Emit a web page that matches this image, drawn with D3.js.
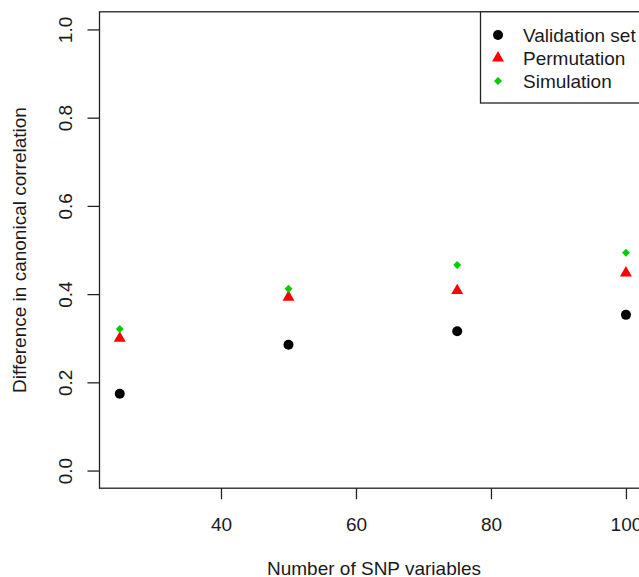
<!DOCTYPE html>
<html><head><meta charset="utf-8">
<script src="https://cdn.jsdelivr.net/npm/d3@7"></script>
<style>body{margin:0;background:#fff}svg{display:block}text{font-family:"Liberation Sans",Arial,sans-serif;fill:#1a1a1a}</style>
</head><body><svg id="c" width="639" height="577"></svg>
<script>
const snpCounts = [25, 50, 75, 100];
const validation = [0.174, 0.285, 0.316, 0.353];
const permutation = [0.300, 0.393, 0.408, 0.448];
const simulation = [0.321, 0.412, 0.466, 0.494];
const xTicks = [40, 60, 80, 100];
const yTicks = [0.0, 0.2, 0.4, 0.6, 0.8, 1.0];
const legendLabels = ["Validation set", "Permutation", "Simulation"];

const svg = d3.select("#c");
const x = d3.scaleLinear().domain([22, 103]).range([99.5, 646.2]);
const y = d3.scaleLinear().domain([-0.04, 1.04]).range([488.2, 11.8]);
const fs = 19;

// box
svg.append("rect").attr("x", x(22)).attr("y", y(1.04)).attr("width", x(103) - x(22)).attr("height", y(-0.04) - y(1.04))
  .attr("fill", "none").attr("stroke", "#222").attr("stroke-width", 1.3);

// x axis
const xa = svg.append("g").attr("transform", `translate(0,${y(-0.04)})`)
  .call(d3.axisBottom(x).tickValues(xTicks).tickSize(11).tickPadding(0).tickFormat(d3.format("d")));
xa.select(".domain").remove();
xa.selectAll("line").attr("stroke", "#222").attr("stroke-width", 1.3);
xa.selectAll("text").attr("font-size", fs).attr("dy", null).attr("y", 43).style("fill", "#1a1a1a");

// y axis
const ya = svg.append("g").attr("transform", `translate(${x(22)},0)`)
  .call(d3.axisLeft(y).tickValues(yTicks).tickSize(12).tickFormat(d3.format(".1f")));
ya.select(".domain").remove();
ya.selectAll("line").attr("stroke", "#222").attr("stroke-width", 1.3);
ya.selectAll("text").attr("x", null).attr("dy", null).attr("font-size", fs)
  .attr("text-anchor", "middle").attr("transform", "translate(-28,0) rotate(-90)").style("fill", "#1a1a1a");

// axis titles
svg.append("text").attr("x", 374).attr("y", 575).attr("text-anchor", "middle").attr("font-size", fs).text("Number of SNP variables");
svg.append("text").attr("transform", `translate(26,${(y(1.04) + y(-0.04)) / 2}) rotate(-90)`).attr("text-anchor", "middle").attr("font-size", fs).text("Difference in canonical correlation");

const circle = d3.symbol().type(d3.symbolCircle).size(Math.PI * 5 * 5);
const tri = d3.symbol().type(d3.symbolTriangle).size(62);
const diamond = d3.symbol().type(d3.symbolSquare).size(32);

function pts(data, sym, col, rot) {
  svg.append("g").selectAll("path").data(data).join("path")
    .attr("d", sym)
    .attr("transform", (d, i) => `translate(${x(snpCounts[i])},${y(d)})${rot ? " rotate(45)" : ""}`)
    .attr("fill", col);
}
pts(validation, circle, "#000", false);
pts(permutation, tri, "#ff0000", false);
pts(simulation, diamond, "#00cd00", true);

// legend
const lg = svg.append("g");
lg.append("rect").attr("x", 480.5).attr("y", y(1.04)).attr("width", 200).attr("height", 103 - y(1.04))
  .attr("fill", "#fff").attr("stroke", "#222").attr("stroke-width", 1.3);
const syms = [[circle, "#000", false], [tri, "#ff0000", false], [diamond, "#00cd00", true]];
legendLabels.forEach((lab, i) => {
  const cy = 35 + i * 23;
  lg.append("path").attr("d", syms[i][0]).attr("fill", syms[i][1])
    .attr("transform", `translate(498,${cy})${syms[i][2] ? " rotate(45)" : ""}`);
  lg.append("text").attr("x", 523).attr("y", cy).attr("dy", "0.35em").attr("font-size", fs).text(lab);
});
</script></body></html>
